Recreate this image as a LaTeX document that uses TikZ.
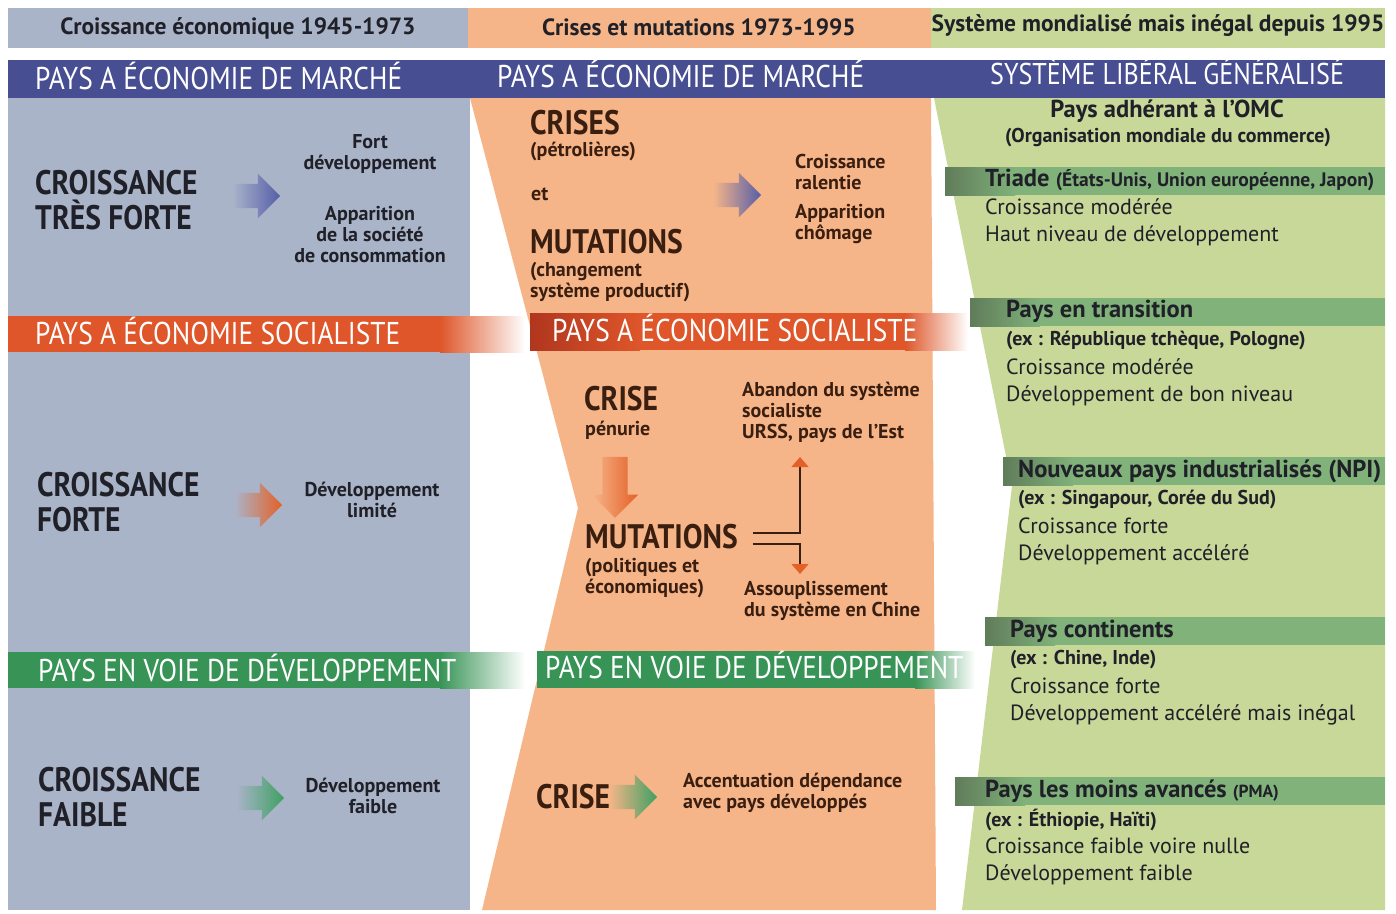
\documentclass[tikz,border=0pt]{standalone}
\usepackage{fontspec}
\setmainfont{PT Sans}
\newfontfamily\serre{PT Sans}[FakeStretch=0.87]
\usetikzlibrary{positioning,shapes.arrows,arrows.meta}

\definecolor{fondgris}{RGB}{170,180,201}
\definecolor{fondorange}{RGB}{246,181,136}
\definecolor{fondvert}{RGB}{200,216,152}
\definecolor{bleufonce}{RGB}{72,78,146}
\definecolor{rougeorange}{RGB}{222,86,42}
\definecolor{rougebrun}{RGB}{176,54,30}
\definecolor{vertbande}{RGB}{56,148,86}
\definecolor{vertsous}{RGB}{128,178,122}
\definecolor{vertsombre}{RGB}{96,124,90}
\definecolor{encre}{RGB}{32,32,40}
\definecolor{brun}{RGB}{58,30,16}
\definecolor{flechebleue}{RGB}{86,94,168}
\definecolor{flecheorange}{RGB}{228,96,40}
\definecolor{flecheverte}{RGB}{62,160,98}

\begin{document}
\begin{tikzpicture}[x=1pt,y=-1pt,
    entete/.style={font=\bfseries\fontsize{23.5}{25}\selectfont, text=encre, inner sep=0},
    bande/.style={font=\serre\fontsize{31.5}{33}\selectfont, text=white, anchor=west, inner sep=0},
    majus/.style={font=\serre\bfseries\fontsize{34}{35}\selectfont, anchor=west, inner sep=0, text=encre},
    gras/.style={font=\bfseries\fontsize{20}{21}\selectfont, inner sep=0, text=encre},
    milieu/.style={text=brun},
    courant/.style={font=\fontsize{22}{27}\selectfont, anchor=west, inner sep=0, align=left, text=encre},
    titrevert/.style={font=\bfseries\fontsize{24.5}{26}\selectfont, anchor=west, inner sep=0, text=encre},
    grosse fleche/.style={single arrow, inner xsep=0, inner ysep=12pt, minimum height=48pt,
        single arrow head extend=10pt},
    lien/.style={draw=brun, line width=1.2pt},
    pointe/.style={-{Triangle[width=17pt,length=10pt,color=flecheorange]}},
]
    \useasboundingbox (0,0) rectangle (1396,913);
    \fill[white] (0,0) rectangle (1396,913);

    % periodes
    \fill[fondgris] (8,8) rectangle (468,48);
    \fill[fondorange] (468,8) rectangle (931,48);
    \fill[fondvert] (931,8) rectangle (1385,48);

    % colonnes
    \fill[fondgris] (8,98) rectangle (470,910);
    \fill[fondorange] (470,98) -- (931,98) -- (936,910) -- (482,910) -- (578,508) -- cycle;
    \fill[fondvert] (934,98) -- (1385,98) -- (1385,910) -- (962,910) -- (1012,486) -- cycle;

    % bandeaux
    \fill[bleufonce] (8,60) rectangle (1385,98);
    \fill[rougeorange] (8,316) rectangle (440,352);
    \shade[left color=rougeorange, right color=white] (440,316) rectangle (525,352);
    \shade[left color=rougebrun, right color=rougeorange] (530,313) rectangle (640,350);
    \fill[rougeorange] (640,313) rectangle (905,350);
    \shade[left color=rougeorange, right color=white] (905,313) rectangle (968,350);
    \fill[vertbande] (8,652) rectangle (440,688);
    \shade[left color=vertbande, right color=white] (440,652) rectangle (525,688);
    \fill[vertbande] (537,651) rectangle (915,688);
    \shade[left color=vertbande, right color=white] (915,651) rectangle (975,688);
    \foreach \y/\xd in {167/945, 298/970, 457/1003, 617/985, 777/955} {
        \shade[left color=vertsombre, right color=vertsous] (\xd,\y) rectangle (\xd+70,\y+28);
        \fill[vertsous] (\xd+70,\y) rectangle (1385,\y+28);
    }

    \node[entete] (per1) at (238,28) {Croissance économique 1945-1973};
    \node[entete] (per2) at (699,27) {Crises et mutations 1973-1995};
    \node[entete] (per3) at (1158,26) {Système mondialisé mais inégal depuis 1995};

    \node[bande] (b-marche1) at (35,76) {PAYS A ÉCONOMIE DE MARCHÉ};
    \node[bande] (b-marche2) at (497,74) {PAYS A ÉCONOMIE DE MARCHÉ};
    \node[bande, font=\serre\fontsize{30}{32}\selectfont] (b-liberal) at (990,72) {SYSTÈME LIBÉRAL GÉNÉRALISÉ};
    \node[bande] (b-socia1) at (35,331) {PAYS A ÉCONOMIE SOCIALISTE};
    \node[bande] (b-socia2) at (552,328) {PAYS A ÉCONOMIE SOCIALISTE};
    \node[bande] (b-pvd1) at (38,668) {PAYS EN VOIE DE DÉVELOPPEMENT};
    \node[bande] (b-pvd2) at (545,665) {PAYS EN VOIE DE DÉVELOPPEMENT};

    % economie de marche
    \node[majus, align=left] (c-tf) at (35,200) {CROISSANCE\\TRÈS FORTE};
    \node[grosse fleche, left color=fondgris, right color=flechebleue] (f-tf) at (250,196) {};
    \node[gras, align=center] (r-tf) at (370,199) {Fort\\développement\\[30pt]Apparition\\de la société\\de consommation};

    \node[majus, milieu] (crises) at (530,123) {CRISES};
    \node[gras, milieu, anchor=west] (petrole) at (530,151) {(pétrolières)};
    \node[gras, milieu, anchor=west] (et) at (531,194) {et};
    \node[majus, milieu] (mut1) at (530,242) {MUTATIONS};
    \node[gras, milieu, anchor=west, align=left] (prod) at (530,282) {(changement\\système productif)};
    \node[grosse fleche, left color=fondorange, right color=flechebleue] (f-crises) at (731,195) {};
    \node[gras, milieu, anchor=west, align=left] (ralenti) at (795,199) {Croissance\\ralentie\\[8pt]Apparition\\chômage};

    % economie socialiste
    \node[majus, align=left] (c-f) at (37,502) {CROISSANCE\\FORTE};
    \node[grosse fleche, left color=fondgris, right color=flecheorange] (f-f) at (252,505) {};
    \node[gras, align=center] (r-f) at (372,500) {Développement\\limité};

    \node[majus, milieu] (crise1) at (584,399) {CRISE};
    \node[gras, milieu, anchor=west] (penurie) at (585,430) {pénurie};
    \node[grosse fleche, rotate=-90, inner ysep=12.5pt, single arrow head extend=10.5pt, minimum height=61pt,
        left color=fondorange, right color=flecheorange] (f-penurie) at (615,481) {};
    \node[majus, milieu] (mut2) at (585,537) {MUTATIONS};
    \node[gras, milieu, anchor=west, align=left] (polit) at (585,578) {(politiques et\\économiques)};
    \node[gras, milieu, anchor=west, align=left] (abandon) at (742,412) {Abandon du système\\socialiste\\URSS, pays de l'Est};
    \node[gras, milieu, anchor=west, align=left] (chine) at (744,601) {Assouplissement\\du système en Chine};
    \coordinate (pointe-h) at (800,457);
    \coordinate (pointe-b) at (800,574);
    \draw[lien, pointe] ([xshift=15pt,yshift=4pt]mut2.east) -| (pointe-h);
    \draw[lien, pointe] ([xshift=15pt,yshift=-7pt]mut2.east) -| (pointe-b);

    % pays en voie de developpement
    \node[majus, align=left] (c-fa) at (38,797) {CROISSANCE\\FAIBLE};
    \node[grosse fleche, left color=fondgris, right color=flecheverte] (f-fa) at (254,798) {};
    \node[gras, align=center] (r-fa) at (373,796) {Développement\\faible};

    \node[majus, milieu] (crise2) at (536,797) {CRISE};
    \node[grosse fleche, left color=fondorange, right color=flecheverte] (f-pvd) at (627,797) {};
    \node[gras, milieu, anchor=west, align=left] (dep) at (683,793) {Accentuation dépendance\\avec pays développés};

    % systeme liberal
    \node[titrevert, anchor=center] (omc) at (1167,111) {Pays adhérant à l'OMC};
    \node[gras] (omc-nom) at (1168,138) {(Organisation mondiale du commerce)};

    \node[titrevert] (triade) at (985,180) {Triade {\fontsize{19.5}{20}\selectfont (États-Unis, Union européenne, Japon)}};
    \node[courant] (triade-d) at (985,222) {Croissance modérée\\Haut niveau de développement};

    \node[titrevert] (trans) at (1006,311) {Pays en transition};
    \node[gras, anchor=west] (trans-ex) at (1006,340) {(ex : République tchèque, Pologne)};
    \node[courant] (trans-d) at (1006,382) {Croissance modérée\\Développement de bon niveau};

    \node[titrevert] (npi) at (1018,471) {Nouveaux pays industrialisés (NPI)};
    \node[gras, anchor=west] (npi-ex) at (1018,499) {(ex : Singapour, Corée du Sud)};
    \node[courant] (npi-d) at (1018,541) {Croissance forte\\Développement accéléré};

    \node[titrevert] (cont) at (1010,631) {Pays continents};
    \node[gras, anchor=west] (cont-ex) at (1010,660) {(ex : Chine, Inde)};
    \node[courant] (cont-d) at (1010,701) {Croissance forte\\Développement accéléré mais inégal};

    \node[titrevert] (pma) at (985,791) {Pays les moins avancés {\fontsize{17.5}{19}\selectfont (PMA)}};
    \node[gras, anchor=west] (pma-ex) at (985,820) {(ex : Éthiopie, Haïti)};
    \node[courant] (pma-d) at (985,861) {Croissance faible voire nulle\\Développement faible};
\end{tikzpicture}
\end{document}
